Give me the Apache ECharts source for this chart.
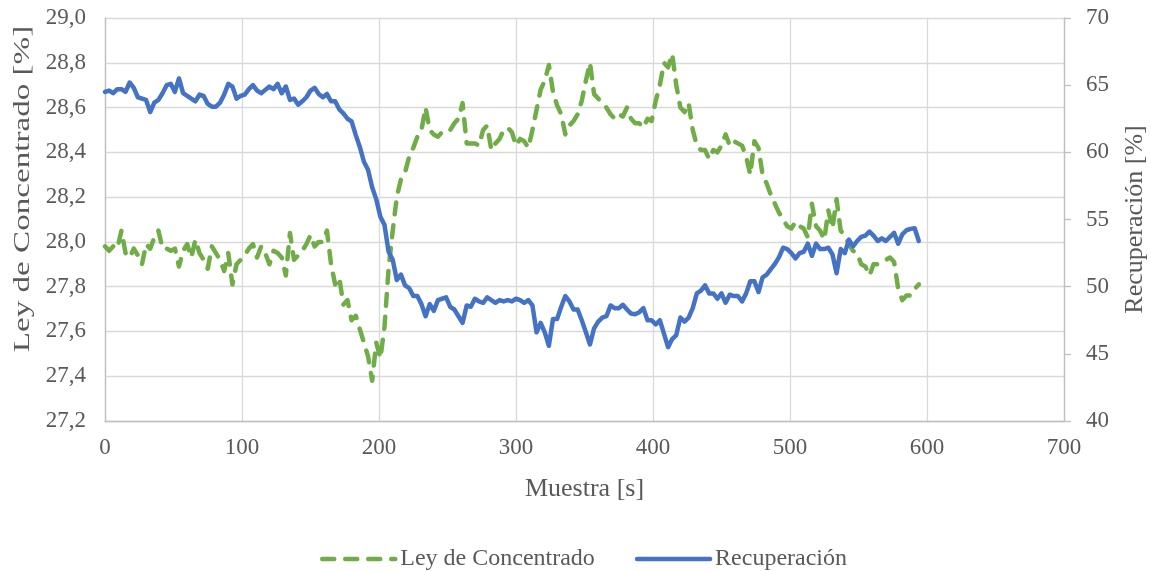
<!DOCTYPE html>
<html>
<head>
<meta charset="utf-8">
<script src="https://cdn.jsdelivr.net/npm/echarts@6/dist/echarts.min.js"></script>
<style>
  html, body { margin: 0; padding: 0; background: #ffffff; overflow: hidden; }
  #chart { width: 1151px; height: 571px; }
</style>
</head>
<body>
<div id="chart"></div>
<script>
// Sample spacing along the "Muestra" axis
const SAMPLE_STEP = 3;

// Ley de Concentrado [%] (left axis), one value every SAMPLE_STEP samples
const leyConcentrado = [
  27.98, 27.96, 27.98, 27.97, 28.05, 27.95, 27.93, 27.97, 27.94, 27.90,
  27.99, 27.97, 28.02, 28.05, 27.97, 27.97, 27.96, 27.97, 27.89, 27.96,
  27.99, 27.93, 28.01, 27.95, 27.92, 27.88, 27.98, 27.95, 27.92, 27.87,
  27.95, 27.81, 27.90, 27.92, 27.94, 27.97, 27.99, 27.93, 27.98, 27.95,
  27.90, 27.96, 27.95, 27.93, 27.85, 28.04, 27.92, 27.94, 27.96, 27.99,
  28.03, 27.98, 28.00, 28.00, 28.05, 27.90, 27.81, 27.84, 27.72, 27.74,
  27.65, 27.67, 27.61, 27.55, 27.49, 27.38, 27.55, 27.48, 27.62, 27.88,
  28.05, 28.20, 28.28, 28.31, 28.38, 28.42, 28.47, 28.50, 28.60, 28.50,
  28.48, 28.47, 28.49, 28.50, 28.50, 28.53, 28.55, 28.62, 28.44, 28.44,
  28.44, 28.43, 28.50, 28.52, 28.41, 28.44, 28.46, 28.50, 28.51, 28.49,
  28.43, 28.46, 28.45, 28.42, 28.50, 28.59, 28.68, 28.72, 28.79, 28.67,
  28.61, 28.57, 28.48, 28.52, 28.54, 28.57, 28.63, 28.72, 28.80, 28.66,
  28.64, 28.62, 28.60, 28.57, 28.55, 28.57, 28.56, 28.60, 28.55, 28.53,
  28.53, 28.51, 28.55, 28.54, 28.63, 28.70, 28.80, 28.78, 28.84, 28.70,
  28.60, 28.58, 28.62, 28.50, 28.43, 28.41, 28.41, 28.37, 28.41, 28.40,
  28.43, 28.48, 28.43, 28.45, 28.44, 28.43, 28.38, 28.30, 28.45, 28.42,
  28.30, 28.26, 28.21, 28.17, 28.13, 28.10, 28.07, 28.06, 28.09, 28.07,
  28.06, 28.02, 28.17, 28.07, 28.05, 28.01, 28.14, 28.06, 28.19, 28.05,
  28.03, 27.99, 27.96, 27.95, 27.90, 27.89, 27.85, 27.90, 27.90, 27.91,
  27.92, 27.93, 27.91, 27.79, 27.74, 27.76, 27.76, 27.79, 27.81
];

// Recuperación [%] (right axis), same sample grid
const recuperacion = [
  64.5, 64.6, 64.4, 64.7, 64.7, 64.5, 65.2, 64.8, 64.1, 64.0,
  63.9, 63.0, 63.7, 63.9, 64.4, 65.0, 65.1, 64.5, 65.5, 64.4,
  64.2, 64.0, 63.8, 64.3, 64.2, 63.6, 63.4, 63.4, 63.7, 64.3,
  65.1, 64.9, 64.0, 64.2, 64.3, 64.7, 65.0, 64.6, 64.4, 64.65,
  64.9, 64.7, 65.1, 64.4, 64.9, 63.9, 64.0, 63.55, 63.8, 64.1,
  64.6, 64.8, 64.35, 64.1, 64.35, 63.8, 63.8, 63.2, 62.9, 62.5,
  62.3, 61.3, 60.4, 59.3, 58.7, 57.4, 56.5, 55.2, 54.6, 52.6,
  52.0, 50.5, 50.9, 50.1, 49.9, 49.3, 49.3, 48.7, 47.8, 48.7,
  48.2, 49.0, 49.1, 49.2, 48.5, 48.3, 47.8, 47.3, 48.6, 48.5,
  49.1, 48.9, 48.8, 49.2, 49.0, 48.8, 49.0, 48.9, 49.0, 48.9,
  49.1, 49.0, 48.8, 49.0, 48.6, 46.6, 47.3, 46.6, 45.6, 47.6,
  47.6, 48.5, 49.3, 48.9, 48.3, 48.3, 47.5, 46.6, 45.7, 46.9,
  47.4, 47.7, 47.8, 48.6, 48.4, 48.4, 48.65, 48.3, 48.0, 47.95,
  48.1, 48.4, 47.5, 47.5, 47.2, 47.5, 46.5, 45.5, 46.1, 46.4,
  47.7, 47.4, 47.7, 48.4, 49.5, 49.7, 50.1, 49.5, 49.5, 49.1,
  49.5, 48.8, 49.4, 49.3, 49.3, 48.9, 49.5, 50.4, 50.4, 49.6,
  50.7, 50.9, 51.3, 51.7, 52.2, 52.9, 52.8, 52.5, 52.1, 52.5,
  52.6, 53.2, 52.3, 53.2, 52.8, 52.8, 52.9, 52.4, 51.0, 52.8,
  52.5, 53.5, 53.0, 53.4, 53.7, 53.8, 54.1, 53.8, 53.4, 53.6,
  53.4, 53.7, 54.0, 53.2, 53.9, 54.2, 54.3, 54.35, 53.4
];

// Axis ranges and tick spacing
const xRange = { min: 0, max: 700, interval: 100 };
const leyRange = { min: 27.2, max: 29.0, interval: 0.2 };
const recRange = { min: 40, max: 70, interval: 5 };

const names = {
  x: 'Muestra [s]',
  ley: 'Ley de Concentrado',
  rec: 'Recuperación',
  leyAxis: 'Ley de Concentrado [%]',
  recAxis: 'Recuperación [%]'
};

const toPairs = (values) => values.map((v, i) => [i * SAMPLE_STEP, v]);

const FONT = '"Liberation Serif", "Times New Roman", serif';
const TEXT = '#595959';
const GRID = '#D9D9D9';
const AXIS = '#BFBFBF';
const GREEN = '#70AD47';
const BLUE = '#4472C4';
const LINE_W = 4.5;

const chart = echarts.init(document.getElementById('chart'), null, { renderer: 'canvas' });

chart.setOption({
  animation: false,
  backgroundColor: '#ffffff',
  textStyle: { fontFamily: FONT, color: TEXT },
  grid: {
    left: 105, right: 87, top: 18, bottom: 150,
    containLabel: false,
    outerBoundsMode: 'none'
  },
  // Left axis title: rotated and widened along its reading direction
  graphic: [
    {
      type: 'text',
      x: 23,
      y: 189,
      rotation: Math.PI / 2,
      scaleX: 1.38,
      silent: true,
      style: {
        text: names.leyAxis,
        fontFamily: FONT,
        fontSize: 24,
        fill: TEXT,
        align: 'center',
        verticalAlign: 'middle'
      }
    }
  ],
  legend: {
    left: 315,
    top: 542,
    itemWidth: 73,
    itemHeight: 14,
    itemGap: 40,
    itemStyle: { opacity: 0 },
    lineStyle: { width: LINE_W, cap: 'round' },
    textStyle: { fontFamily: FONT, fontSize: 24, color: TEXT },
    data: [names.ley, names.rec]
  },
  xAxis: {
    type: 'value',
    min: xRange.min,
    max: xRange.max,
    interval: xRange.interval,
    name: names.x,
    nameLocation: 'middle',
    nameGap: 55,
    nameTextStyle: { fontFamily: FONT, fontSize: 26, color: TEXT },
    axisLine: { show: true, lineStyle: { color: AXIS, width: 1.3 } },
    axisTick: { show: false },
    axisLabel: { fontFamily: FONT, fontSize: 23, color: TEXT, margin: 15 },
    splitLine: { show: true, lineStyle: { color: GRID, width: 1.3 } }
  },
  yAxis: [
    {
      type: 'value',
      position: 'left',
      min: leyRange.min,
      max: leyRange.max,
      interval: leyRange.interval,
      axisLine: { show: true, lineStyle: { color: AXIS, width: 1.3 } },
      axisTick: { show: false },
      axisLabel: {
        fontFamily: FONT, fontSize: 23, color: TEXT, margin: 19,
        formatter: (v) => v.toFixed(1).replace('.', ',')
      },
      splitLine: { show: true, lineStyle: { color: GRID, width: 1.3 } }
    },
    {
      type: 'value',
      position: 'right',
      min: recRange.min,
      max: recRange.max,
      interval: recRange.interval,
      name: names.recAxis,
      nameLocation: 'middle',
      nameRotate: 90,
      nameGap: 58,
      nameTextStyle: { fontFamily: FONT, fontSize: 26, color: TEXT },
      axisLine: { show: true, lineStyle: { color: AXIS, width: 1.3 } },
      axisTick: { show: true, inside: false, length: 7, lineStyle: { color: AXIS, width: 1.3 } },
      axisLabel: { fontFamily: FONT, fontSize: 23, color: TEXT, margin: 22 },
      splitLine: { show: false }
    }
  ],
  series: [
    {
      name: names.ley,
      type: 'line',
      yAxisIndex: 0,
      data: toPairs(leyConcentrado),
      symbol: 'none',
      smooth: false,
      color: GREEN,
      lineStyle: { color: GREEN, width: LINE_W, type: [12, 11], cap: 'round', join: 'round' },
      z: 2
    },
    {
      name: names.rec,
      type: 'line',
      yAxisIndex: 1,
      data: toPairs(recuperacion),
      symbol: 'none',
      smooth: false,
      color: BLUE,
      lineStyle: { color: BLUE, width: LINE_W, cap: 'round', join: 'round' },
      z: 3
    }
  ]
});
</script>
</body>
</html>
